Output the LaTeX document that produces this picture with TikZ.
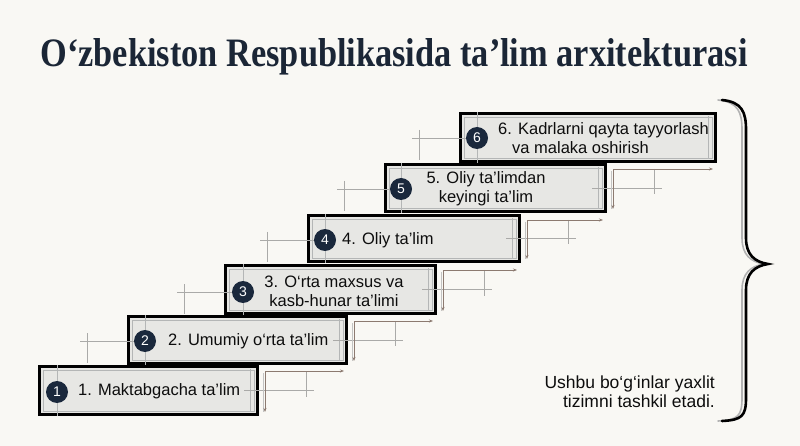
\documentclass[tikz,border=0pt]{standalone}
\usepackage{fontspec}
\usepackage{graphicx}
\setmainfont{Liberation Sans}
\newfontfamily\titlefont{Liberation Serif}
\usetikzlibrary{calc,arrows.meta}
\definecolor{bgc}{RGB}{249,248,244}
\definecolor{navy}{RGB}{27,38,54}
\definecolor{circc}{RGB}{26,40,60}
\definecolor{boxfill}{RGB}{231,231,228}
\definecolor{guidec}{RGB}{170,170,168}
\definecolor{innerc}{RGB}{180,182,182}
\definecolor{arrowc}{RGB}{140,122,112}
\tikzset{
  stepbox/.style={draw=black, line width=2.6pt, fill=boxfill, inner sep=0pt},
  numc/.style={circle, fill=circc, text=white, minimum size=22pt, inner sep=0pt, font=\fontsize{14}{14}\selectfont},
  lbl/.style={inner sep=0pt, text=black!95, font=\fontsize{16.5}{19}\selectfont},
  guide/.style={draw=guidec, line width=0.6pt},
  innerl/.style={draw=innerc, line width=0.7pt},
  arr/.style={draw=arrowc, line width=0.8pt, {Stealth[length=4pt,width=3pt]}-{Stealth[length=4pt,width=3pt]}},
}
\begin{document}
\begin{tikzpicture}[x=1pt,y=-1pt]
\useasboundingbox (0,0) rectangle (800,446);
\fill[bgc] (0,0) rectangle (800,446);

% title
\node[anchor=base, inner sep=0pt, text=navy] (title) at (394,67)
  {\resizebox{707pt}{28pt}{\titlefont\bfseries O‘zbekiston Respublikasida ta’lim arxitekturasi}};

% boxes
\foreach \n/\l/\t/\r/\b in {1/38/365/259/416, 2/127/315/348/365, 3/224/264/437/315, 4/307/214/521/263, 5/384/163/607/213, 6/459/112/717/163}{
  \node[stepbox, minimum width={\r-\l-2.6}, minimum height={\b-\t-2.6}, anchor=north west] (b\n) at (\l,\t) {};
  \draw[innerl] ($(b\n.north west)+(5,5)$) rectangle ($(b\n.south east)+(-5,-5)$);
  \draw[innerl] ($(b\n.north east)+(-9,4)$) -- ($(b\n.south east)+(-9,-4)$);
}

% circle positions (guide lines through them first)
\foreach \n/\cx/\cy in {1/57/392, 2/145/341, 3/243/292, 4/325/240, 5/401/189, 6/477/138}{
  \coordinate (o\n) at (\cx,\cy);
  \draw[innerl] (o\n |- b\n.north) -- (o\n |- b\n.south);
}

% left crosshairs
\foreach \n in {2,3,4,5,6}{
  \draw[guide] ($(b\n.west |- o\n)+(-47,0)$) -- (o\n);
  \draw[guide] ($(b\n.west |- o\n)+(-40,-8)$) -- ($(b\n.west |- o\n)+(-40,22)$);
}

% right crosshairs and step arrows
\foreach \n/\m in {1/2,2/3,3/4,4/5,5/6}{
  \draw[guide] ($(b\n.east)+(-15,0)$) -- ($(b\n.east)+(55,0)$);
  \draw[guide] ($(b\n.north east)+(47,6)$) -- ($(b\n.east)+(47,6)$);
  \coordinate (k\n) at ($(b\n.north east)+(6,6)$);
  \coordinate (h\n) at ($(b\m.east |- k\n)+(-4,0)$);
  \coordinate (v\n) at ($(b\n.south east)+(6,-4)$);
  \draw[guide, draw=guidec!70] ($(k\n)+(-2,2)$) -- ($(v\n)+(-2,0)$);
  \draw[arr] (h\n) -- (k\n) -- (v\n);
}

% number circles
\foreach \n in {1,...,6}{
  \node[numc] (c\n) at (o\n) {\n};
}

% texts
\node[lbl, anchor=west] (t1) at (78,391) {1. Maktabgacha ta’lim};
\node[lbl, anchor=west] (t2) at (168,341) {2. Umumiy o‘rta ta’lim};
\node[lbl, align=center] (t3) at (334,291) {3. O‘rta maxsus va\\kasb-hunar ta’limi};
\node[lbl, anchor=west] (t4) at (342,240) {4. Oliy ta’lim};
\node[lbl, align=center] (t5) at (486,189) {5. Oliy ta’limdan\\keyingi ta’lim};
\node[lbl, anchor=west, align=left] (t6) at (498,138) {6. Kadrlarni qayta tayyorlash\\\hspace*{14pt}va malaka oshirish};

% brace
\draw[draw=gray!60, line width=1.6pt, line cap=round]
  (718,100) .. controls (738,102) and (742,112) .. (742,130) -- (742,238)
  .. controls (742,255) and (751,262) .. (764,264)
  .. controls (751,266) and (742,273) .. (742,290) -- (742,398)
  .. controls (742,416) and (738,420) .. (718,421);
\draw[draw=black, line width=2.6pt, line cap=round]
  (722,100) .. controls (742,102) and (746,112) .. (746,130) -- (746,238)
  .. controls (746,255) and (755,262) .. (768,264)
  .. controls (755,266) and (746,273) .. (746,290) -- (746,398)
  .. controls (746,416) and (742,420) .. (722,421);

\node[lbl, anchor=east, align=right, font=\fontsize{17.5}{19}\selectfont] (cap) at (715,392)
  {Ushbu bo‘g‘inlar yaxlit\\tizimni tashkil etadi.};
\end{tikzpicture}
\end{document}
